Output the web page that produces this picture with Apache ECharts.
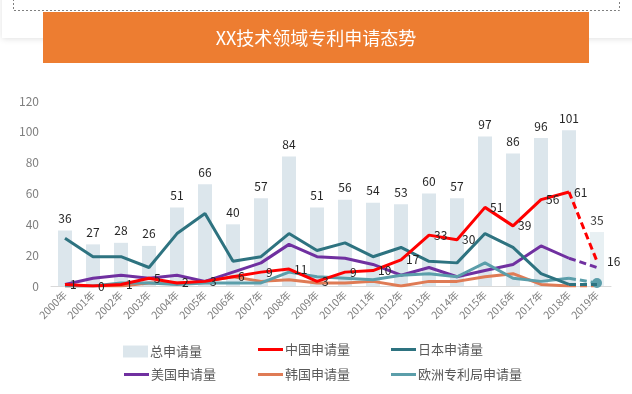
<!DOCTYPE html>
<html><head><meta charset="utf-8">
<script src="https://cdn.jsdelivr.net/npm/echarts@6/dist/echarts.min.js"></script>
<style>html,body{margin:0;padding:0;background:#fff}#c{width:632px;height:394px}</style>
</head><body><div id="c"></div>
<script>
var years = ['2000年','2001年','2002年','2003年','2004年','2005年','2006年','2007年','2008年','2009年','2010年','2011年','2012年','2013年','2014年','2015年','2016年','2017年','2018年','2019年'];
var totalApps = [36,27,28,26,51,66,40,57,84,51,56,54,53,60,57,97,86,96,101,35];
var chinaApps = [1,0,1,5,2,3,6,9,11,3,9,10,17,33,30,51,39,56,61,16];
var japanApps = [31,19,19,12,34,47,16,19,34,23,28,19,25,16,15,34,25,8,1,1];
var usaApps = [1,5,7,5,7,3,9,15,27,19,18,14,7,12,6,10,14,26,18,12];
var koreaApps = [0,0,0,2,2,3,6,3,4,2,2,3,0,3,3,6,8,1,0,0];
var europeApps = [0,0,2,2,1,2,2,2,9,6,5,4,7,8,6,15,5,3,5,2];
var yTicks = [0,20,40,60,80,100,120];

var FONT = '"Noto Sans CJK SC", "Noto Sans", sans-serif';
var n = years.length;
function solidPart(arr){ return arr.map(function(v,i){ return i <= n-2 ? v : '-'; }); }
function dashPart(arr){ return arr.map(function(v,i){ return i >= n-2 ? v : '-'; }); }

var cols = {china:'#FF0000', japan:'#2E7380', usa:'#7030A0', korea:'#DF7B55', europe:'#5B9EAA'};
var lineDefs = [
  {name:'中国申请量', data:chinaApps, color:cols.china, z:6, label:true},
  {name:'日本申请量', data:japanApps, color:cols.japan, z:5},
  {name:'美国申请量', data:usaApps, color:cols.usa, z:4},
  {name:'韩国申请量', data:koreaApps, color:cols.korea, z:3},
  {name:'欧洲专利局申请量', data:europeApps, color:cols.europe, z:4, endMarker:true}
];

var series = [{
  name:'总申请量', type:'bar', barWidth:14, z:1,
  data: totalApps.map(function(v,i){ return i===n-1 ? {value:v, itemStyle:{color:'#E6EEF2', opacity:0.9}} : v; }),
  itemStyle:{color:'#DCE6EC'},
  label:{show:true, position:'top', distance:6, color:'#262626', fontSize:12, fontFamily:FONT}
}];
lineDefs.forEach(function(d){
  series.push({
    name:d.name, type:'line', data:solidPart(d.data), z:d.z,
    symbol: d.label ? 'circle' : 'none', symbolSize: d.label ? 0.01 : 0, showSymbol: !!d.label,
    lineStyle:{width:3, color:d.color}, itemStyle:{color:d.color},
    label: d.label ? {show:true, position:'right', distance:5, color:'#262626', fontSize:12, fontFamily:FONT} : {show:false}
  });
  var dd = dashPart(d.data);
  if (d.endMarker) {
    dd[n-1] = {value:d.data[n-1], symbol:'circle', symbolSize:10};
  }
  series.push({
    name:d.name, type:'line', data:dd, z:d.z,
    symbol: (d.label || d.endMarker) ? 'circle' : 'none', symbolSize: d.endMarker ? 0.01 : 0.01,
    showSymbol: !!(d.label || d.endMarker),
    lineStyle:{width:3, color:d.color, type:[7,4]}, itemStyle:{color:d.color},
    label: d.label ? {show:true, position:'right', distance:10, color:'#262626', fontSize:12, fontFamily:FONT,
      formatter:function(p){ return p.dataIndex===n-1 ? String(p.value) : ''; }} : {show:false}
  });
});

function leg(name, left, top, isBar){
  return {
    data:[name], left:left, top:top, itemWidth:25, itemHeight:isBar?12:3, itemGap:0,
    icon:'rect',
    textStyle:{color:'#595959', fontSize:13, fontFamily:FONT, padding:[0,0,0,-3]},
    selectedMode:false
  };
}

var chart = echarts.init(document.getElementById('c'), null, {renderer:'canvas'});
chart.setOption({
  backgroundColor:'#ffffff',
  animation:false,
  textStyle:{fontFamily:FONT},
  graphic:[
    {type:'rect', shape:{x:2,y:-20,width:640,height:58}, style:{fill:'#fff', shadowBlur:6, shadowColor:'rgba(0,0,0,0.12)', shadowOffsetY:1}, z:0},
    {type:'rect', shape:{x:13.5,y:-20,width:606,height:30.5}, style:{fill:'none', stroke:'#7f7f7f', lineWidth:1, lineDash:[2,2]}, z:1},
    {type:'rect', shape:{x:43,y:12,width:546,height:51}, style:{fill:'#ED7D31'}, z:2},
    {type:'text', x:316, y:38, style:{text:'XX技术领域专利申请态势', fill:'#ffffff', font:'18px '+FONT, align:'center', verticalAlign:'middle'}, z:3}
  ],
  legend:[
    leg('总申请量',118,340,true),
    leg('中国申请量',253,338,false),
    leg('日本申请量',386,338,false),
    leg('美国申请量',119,363,false),
    leg('韩国申请量',253,363,false),
    leg('欧洲专利局申请量',386,363,false)
  ],
  grid:{left:51, right:21, top:101, bottom:108, containLabel:false},
  xAxis:{type:'category', data:years, boundaryGap:true,
    axisLine:{lineStyle:{color:'#D9D9D9'}}, axisTick:{show:false},
    axisLabel:{rotate:45, fontSize:10.5, color:'#808080', margin:7, interval:0, fontFamily:FONT}},
  yAxis:{type:'value', min:yTicks[0], max:yTicks[yTicks.length-1], interval:20,
    axisLine:{show:false}, axisTick:{show:false}, splitLine:{show:false},
    axisLabel:{fontSize:12, color:'#7f7f7f', margin:12, fontFamily:FONT}},
  series:series
});
</script></body></html>
